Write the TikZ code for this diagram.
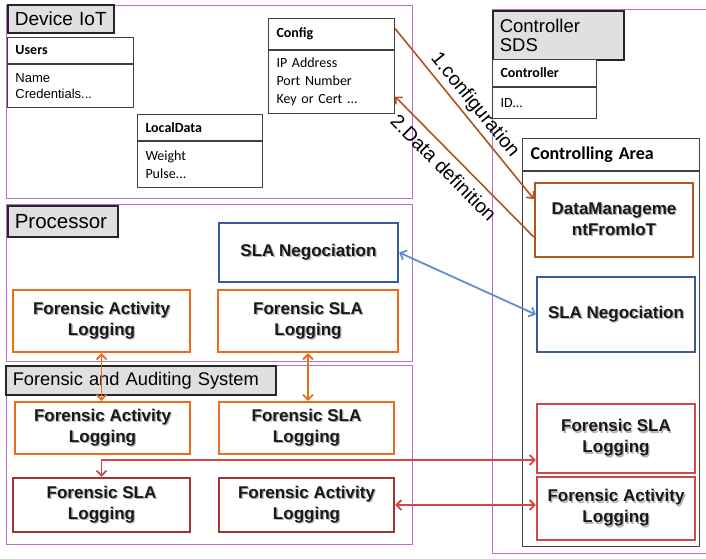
\documentclass[tikz,border=0pt]{standalone}
\usepackage{fontspec}
\setmainfont{Liberation Sans}
\newfontfamily\calib{Carlito}
\usetikzlibrary{arrows.meta}

\definecolor{areapurple}{RGB}{186,112,200}
\definecolor{logorange}{RGB}{236,108,30}
\definecolor{logdark}{RGB}{160,52,48}
\definecolor{logred}{RGB}{206,74,68}
\definecolor{negblue}{RGB}{58,92,150}
\definecolor{linkblue}{RGB}{96,142,204}
\definecolor{cfgbrown}{RGB}{176,84,32}

% bold box text with its soft drop shadow
\newcommand\shd[1]{\makebox[0pt][l]{\kern1.3pt\raisebox{-1.3pt}{\textcolor{black!30}{#1}}}#1}

\begin{document}
\begin{tikzpicture}[x=1pt,y=-1pt,
    area/.style={draw=areapurple, line width=1pt},
    tag/.style={draw=black!85, fill=black!12, line width=1.6pt, anchor=north west,
        inner xsep=7pt, inner ysep=0pt, align=left},
    head/.style={draw=black!75, fill=white, line width=1pt, anchor=north west,
        inner xsep=8pt, inner ysep=0pt, align=left,
        font=\calib\bfseries\fontsize{14}{16}\selectfont},
    body/.style={head, font=\calib\fontsize{14}{18}\selectfont},
    logbox/.style={draw, fill=white, line width=2.4pt, align=center, text=black!90,
        font=\bfseries\fontsize{17}{21}\selectfont},
    link/.style={line width=1.8pt,
        {Straight Barb[length=5pt,width=10pt]}-{Straight Barb[length=5pt,width=10pt]}},
    oneway/.style={line width=1.6pt, -{Straight Barb[length=5pt,width=10pt]}},
    linklabel/.style={sloped, text=black, font=\fontsize{19.5}{22}\selectfont}
]
\useasboundingbox (0,0) rectangle (706,558);

% areas
\draw[area] (6,5) rectangle (412,198);
\draw[area] (6,204) rectangle (412,361);
\draw[area] (6,365) rectangle (412,544);
\draw[area] (492,9) rectangle (710,553);

% Device IoT
\node[tag, text width=92pt, minimum height=28pt, font=\fontsize{19}{21}\selectfont]
    (dev) at (7,4) {Device IoT};
\node[head, text width=110pt, minimum height=26pt] (usrT) at (7,37) {Users};
\node[body, text width=110pt, minimum height=43pt, font=\fontsize{13}{16}\selectfont]
    (usrB) at (usrT.south west) {Name\\Credentials...};
\node[head, text width=110pt, minimum height=31pt] (cfgT) at (268,18) {Config};
\node[body, text width=110pt, minimum height=63pt]
    (cfgB) at (cfgT.south west) {IP Address\\Port Number\\Key or Cert ...};
\node[head, text width=109pt, minimum height=26pt] (locT) at (137,114) {LocalData};
\node[body, text width=109pt, minimum height=46pt]
    (locB) at (locT.south west) {Weight\\Pulse...};

% Processor
\node[tag, text width=96pt, minimum height=31pt, font=\fontsize{20.5}{22}\selectfont]
    (proc) at (7,205) {Processor};
\node[logbox, draw=negblue, minimum width=179pt, minimum height=59pt]
    (pSLA) at (308.5,252.5) {\shd{SLA Negociation}};
\node[logbox, draw=logorange, minimum width=177pt, minimum height=62pt]
    (pFAL) at (101.5,321) {\shd{Forensic Activity}\\\shd{Logging}};
\node[logbox, draw=logorange, minimum width=180pt, minimum height=62pt]
    (pFSL) at (308,321) {\shd{Forensic SLA}\\\shd{Logging}};

% Forensic and Auditing System
\node[tag, text width=256pt, minimum height=29pt, font=\fontsize{18.3}{20}\selectfont]
    (fas) at (5,365) {Forensic and Auditing System};
\node[logbox, draw=logorange, minimum width=175pt, minimum height=52pt]
    (fFAL) at (102.5,428) {\shd{Forensic Activity}\\\shd{Logging}};
\node[logbox, draw=logorange, minimum width=175pt, minimum height=52pt]
    (fFSL) at (306.5,428) {\shd{Forensic SLA}\\\shd{Logging}};
\node[logbox, draw=logdark, minimum width=177pt, minimum height=54pt]
    (dFSL) at (101.5,505) {\shd{Forensic SLA}\\\shd{Logging}};
\node[logbox, draw=logdark, minimum width=175pt, minimum height=54pt]
    (dFAL) at (306.5,505) {\shd{Forensic Activity}\\\shd{Logging}};

% Controller SDS
\node[tag, text width=117pt, minimum height=49pt, font=\fontsize{18.5}{19}\selectfont]
    (sds) at (492,10) {Controller\\SDS};
\node[head, text width=88pt, minimum height=27pt] (ctlT) at (492,59) {Controller};
\node[body, text width=88pt, minimum height=31pt] (ctlB) at (ctlT.south west) {ID...};
\node[head, text width=161pt, minimum height=32pt, font=\calib\bfseries\fontsize{18}{20}\selectfont]
    (areaT) at (522,138) {Controlling Area};
\node[body, text width=161pt, minimum height=375pt] (areaB) at (areaT.south west) {};
\node[logbox, draw=cfgbrown, minimum width=158pt, minimum height=74pt]
    (dm) at (614,220) {\shd{DataManageme}\\\shd{ntFromIoT}};
\node[logbox, draw=negblue, minimum width=158pt, minimum height=75pt]
    (rSLA) at (616,314.5) {\shd{SLA Negociation}};
\node[logbox, draw=logred, minimum width=158pt, minimum height=69pt]
    (rFSL) at (616,438.5) {\shd{Forensic SLA}\\\shd{Logging}};
\node[logbox, draw=logred, minimum width=158pt, minimum height=63pt]
    (rFAL) at (616,508.5) {\shd{Forensic Activity}\\\shd{Logging}};

% connectors
\draw[oneway, cfgbrown] ([yshift=5.5pt]cfgT.east) -- node[linklabel, above, pos=0.5]
    {1.configuration} ([yshift=21pt]dm.west);
\draw[oneway, cfgbrown] ([yshift=-17pt]dm.west) -- node[linklabel, below=4pt, pos=0.57]
    {2.Data definition} ([yshift=-14.5pt]cfgB.east);
\draw[link, logorange] (pFAL.south) -- (pFAL.south |- fFAL.north);
\draw[link, logorange] (pFSL.south) -- (pFSL.south |- fFSL.north);
\draw[link, linkblue] (pSLA.east) -- (rSLA.west);
\draw[link, logred] (dFSL.north) |- ([yshift=-21.5pt]rFSL.west);
\draw[link, logred] (dFAL.east) -- (dFAL.east -| rFAL.west);
\end{tikzpicture}
\end{document}
